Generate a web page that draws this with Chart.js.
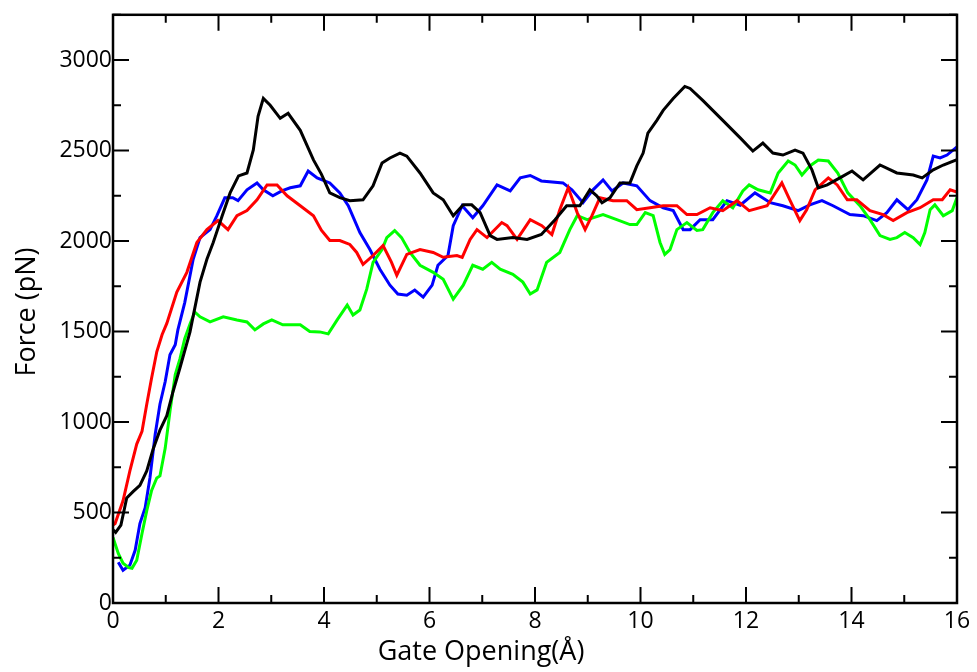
<!DOCTYPE html>
<html>
<head>
<meta charset="utf-8">
<script src="https://cdn.jsdelivr.net/npm/chart.js@4.4.1/dist/chart.umd.min.js"></script>
<style>
  html, body { margin: 0; padding: 0; background: #fff; }
  #wrap { width: 977px; height: 672px; }
</style>
</head>
<body>
<div id="wrap"><canvas id="chart1" width="977" height="672"></canvas></div>
<script>
// gate opening (A) vs force (pN), one [x, y] pair per point
const blackRun = [
  [0, 405], [0.05, 390], [0.15, 430], [0.26, 580], [0.38, 615], [0.51, 650], [0.64, 730], [0.76, 850],
  [0.89, 955], [1.02, 1035], [1.14, 1170], [1.27, 1300], [1.46, 1498], [1.65, 1773], [1.78, 1899],
  [1.9, 1992], [2.07, 2140], [2.22, 2266], [2.38, 2360], [2.54, 2376], [2.66, 2503], [2.75, 2689],
  [2.85, 2788], [2.98, 2750], [3.17, 2678], [3.32, 2706], [3.55, 2612], [3.8, 2448], [3.95, 2370],
  [4.11, 2266], [4.3, 2240], [4.49, 2223], [4.74, 2228], [4.93, 2305], [5.1, 2431], [5.25, 2459],
  [5.44, 2486], [5.57, 2469], [5.82, 2376], [6.07, 2266], [6.26, 2228], [6.45, 2140], [6.64, 2200],
  [6.8, 2200], [6.96, 2157], [7.15, 2030], [7.28, 2009], [7.58, 2019], [7.85, 2009], [8.12, 2036],
  [8.38, 2118], [8.6, 2195], [8.85, 2195], [9.04, 2283], [9.17, 2250], [9.27, 2212], [9.42, 2239],
  [9.61, 2321], [9.8, 2321], [9.93, 2415], [10.05, 2486], [10.14, 2596], [10.31, 2667], [10.43, 2722],
  [10.62, 2788], [10.84, 2854], [10.94, 2843], [11.18, 2777], [11.56, 2667], [11.89, 2570],
  [12.13, 2497], [12.32, 2541], [12.51, 2486], [12.7, 2475], [12.93, 2503], [13.08, 2486],
  [13.25, 2393], [13.37, 2294], [13.54, 2310], [13.78, 2349], [14.01, 2387], [14.22, 2338],
  [14.54, 2420], [14.86, 2376], [15.17, 2365], [15.34, 2349], [15.55, 2393], [15.74, 2420], [16, 2450]
];
const redRun = [
  [0, 430], [0.04, 439], [0.19, 565], [0.32, 730], [0.45, 878], [0.55, 949], [0.64, 1098], [0.73, 1240],
  [0.83, 1388], [0.93, 1482], [1.02, 1545], [1.21, 1718], [1.4, 1827], [1.59, 1992], [1.78, 2063],
  [1.99, 2113], [2.18, 2063], [2.35, 2140], [2.54, 2168], [2.73, 2228], [2.92, 2310], [3.11, 2310],
  [3.3, 2250], [3.55, 2195], [3.8, 2140], [3.95, 2060], [4.11, 2003], [4.3, 2003], [4.49, 1981],
  [4.62, 1937], [4.74, 1871], [4.93, 1920], [5.12, 1975], [5.28, 1882], [5.38, 1811], [5.57, 1926],
  [5.82, 1953], [6.07, 1937], [6.26, 1910], [6.52, 1920], [6.62, 1910], [6.77, 2009], [6.9, 2063],
  [7.09, 2019], [7.37, 2102], [7.47, 2085], [7.66, 2009], [7.91, 2118], [8.13, 2085], [8.32, 2036],
  [8.47, 2173], [8.63, 2294], [8.8, 2157], [8.95, 2063], [9.08, 2140], [9.23, 2239], [9.48, 2223],
  [9.74, 2223], [9.93, 2173], [10.18, 2184], [10.43, 2195], [10.69, 2195], [10.88, 2146], [11.07, 2146],
  [11.32, 2184], [11.56, 2168], [11.83, 2223], [12.06, 2168], [12.4, 2195], [12.68, 2321], [12.83, 2228],
  [13.02, 2113], [13.15, 2173], [13.31, 2283], [13.56, 2349], [13.73, 2310], [13.92, 2228], [14.1, 2228],
  [14.35, 2168], [14.6, 2146], [14.79, 2113], [15.05, 2157], [15.3, 2184], [15.55, 2228], [15.72, 2228],
  [15.87, 2283], [16, 2270]
];
const blueRun = [
  [0.1, 225], [0.19, 181], [0.32, 209], [0.42, 291], [0.51, 439], [0.61, 527], [0.7, 691], [0.8, 933],
  [0.89, 1098], [0.99, 1224], [1.08, 1372], [1.18, 1427], [1.23, 1509], [1.36, 1660], [1.52, 1899],
  [1.65, 2019], [1.84, 2063], [1.97, 2140], [2.12, 2239], [2.27, 2239], [2.37, 2223], [2.54, 2283],
  [2.73, 2321], [2.85, 2283], [3.03, 2250], [3.2, 2277], [3.36, 2294], [3.55, 2305], [3.7, 2387],
  [3.87, 2349], [4.11, 2321], [4.3, 2266], [4.46, 2195], [4.68, 2047], [4.87, 1953], [5.06, 1844],
  [5.25, 1756], [5.4, 1707], [5.57, 1701], [5.72, 1729], [5.88, 1690], [6.05, 1756], [6.16, 1866],
  [6.35, 1920], [6.45, 2085], [6.62, 2195], [6.82, 2129], [7.01, 2195], [7.28, 2310], [7.53, 2277],
  [7.72, 2349], [7.91, 2362], [8.12, 2332], [8.53, 2321], [8.7, 2283], [8.91, 2212], [9.1, 2283],
  [9.29, 2338], [9.46, 2277], [9.67, 2321], [9.93, 2305], [10.18, 2223], [10.43, 2184], [10.62, 2168],
  [10.81, 2063], [10.94, 2063], [11.13, 2118], [11.37, 2118], [11.64, 2223], [11.89, 2198], [12.17, 2266],
  [12.46, 2212], [12.7, 2195], [12.99, 2168], [13.21, 2200], [13.44, 2223], [13.65, 2195], [13.97, 2146],
  [14.22, 2140], [14.48, 2113], [14.67, 2157], [14.86, 2228], [15.07, 2173], [15.24, 2228], [15.43, 2338],
  [15.55, 2469], [15.68, 2459], [15.81, 2475], [16, 2520]
];
const greenRun = [
  [0, 362], [0.1, 274], [0.19, 220], [0.3, 195], [0.36, 192], [0.45, 236], [0.55, 384], [0.64, 510],
  [0.73, 620], [0.83, 691], [0.89, 702], [0.99, 856], [1.08, 1059], [1.18, 1262], [1.27, 1350],
  [1.36, 1460], [1.46, 1542], [1.55, 1608], [1.65, 1581], [1.84, 1553], [2.09, 1581], [2.35, 1564],
  [2.54, 1553], [2.69, 1509], [2.85, 1542], [3.01, 1564], [3.22, 1537], [3.55, 1537], [3.73, 1500],
  [3.92, 1498], [4.08, 1487], [4.25, 1564], [4.44, 1646], [4.55, 1591], [4.68, 1619], [4.81, 1734],
  [4.93, 1882], [5.1, 1953], [5.19, 2019], [5.34, 2058], [5.47, 2019], [5.63, 1937], [5.82, 1866],
  [6.07, 1827], [6.26, 1789], [6.45, 1679], [6.64, 1756], [6.82, 1866], [7.01, 1844], [7.18, 1882],
  [7.34, 1844], [7.58, 1816], [7.77, 1773], [7.91, 1707], [8.04, 1730], [8.22, 1882], [8.47, 1937],
  [8.66, 2063], [8.8, 2140], [8.99, 2118], [9.29, 2146], [9.55, 2118], [9.8, 2091], [9.93, 2091],
  [10.09, 2157], [10.24, 2140], [10.37, 1992], [10.46, 1926], [10.56, 1953], [10.69, 2063], [10.88, 2102],
  [11.07, 2058], [11.18, 2063], [11.37, 2157], [11.56, 2223], [11.75, 2184], [11.94, 2277], [12.06, 2310],
  [12.23, 2283], [12.46, 2266], [12.61, 2376], [12.8, 2442], [12.93, 2420], [13.06, 2365], [13.21, 2415],
  [13.37, 2448], [13.56, 2442], [13.74, 2376], [13.93, 2266], [14.16, 2195], [14.35, 2118], [14.54, 2030],
  [14.73, 2009], [14.86, 2019], [15.01, 2047], [15.17, 2019], [15.3, 1981], [15.39, 2047], [15.49, 2173],
  [15.58, 2200], [15.74, 2140], [15.91, 2168], [16, 2240]
];

const xTicks = [0, 2, 4, 6, 8, 10, 12, 14, 16];
const yTicks = [0, 500, 1000, 1500, 2000, 2500, 3000];
const xTitle = 'Gate Opening(Å)';
const yTitle = 'Force (pN)';

function pts(run) {
  return run.map(p => ({ x: p[0], y: p[1] }));
}

// boxed frame with inward ticks on all four sides, plus the axis titles
const frameTicks = {
  id: 'frameTicks',
  afterDraw(chart) {
    const { ctx, chartArea: a, scales: { x, y } } = chart;
    ctx.save();
    ctx.strokeStyle = '#000';
    ctx.lineWidth = 2.5;
    ctx.strokeRect(a.left, a.top, a.right - a.left, a.bottom - a.top);
    ctx.lineWidth = 2;
    ctx.beginPath();
    for (let v = 0; v <= 16; v += 1) {
      const px = x.getPixelForValue(v);
      const len = v % 2 === 0 ? 16 : 8;
      ctx.moveTo(px, a.bottom); ctx.lineTo(px, a.bottom - len);
      ctx.moveTo(px, a.top); ctx.lineTo(px, a.top + len);
    }
    for (let v = 0; v <= 3250; v += 250) {
      const py = y.getPixelForValue(v);
      const len = v % 500 === 0 ? 16 : 8;
      ctx.moveTo(a.left, py); ctx.lineTo(a.left + len, py);
      ctx.moveTo(a.right, py); ctx.lineTo(a.right - len, py);
    }
    ctx.stroke();

    ctx.fillStyle = '#000';
    ctx.font = '27px "Open Sans"';
    ctx.textAlign = 'center';
    ctx.textBaseline = 'middle';
    ctx.fillText(xTitle, 481, 652);
    ctx.translate(27, 312);
    ctx.rotate(-Math.PI / 2);
    ctx.fillText(yTitle, 0, 0);
    ctx.restore();
  }
};

const tickFont = { family: '"Open Sans"', size: 23 };
const plain = v => String(v);

new Chart(document.getElementById('chart1').getContext('2d'), {
  type: 'line',
  data: {
    datasets: [
      { data: pts(blackRun), borderColor: '#000000' },
      { data: pts(redRun), borderColor: '#ff0000' },
      { data: pts(greenRun), borderColor: '#00ff00' },
      { data: pts(blueRun), borderColor: '#0000ff' }
    ].map(d => Object.assign(d, { borderWidth: 3, pointRadius: 0, tension: 0, fill: false }))
  },
  options: {
    responsive: false,
    animation: false,
    layout: { padding: { top: 13, right: 20, left: 0, bottom: 0 } },
    plugins: { legend: { display: false }, tooltip: { enabled: false } },
    scales: {
      x: {
        type: 'linear', min: 0, max: 16,
        grid: { display: false, drawTicks: false },
        border: { display: false },
        ticks: { font: tickFont, color: '#000', padding: 5, maxRotation: 0, autoSkip: false, callback: plain },
        afterBuildTicks: s => { s.ticks = xTicks.map(v => ({ value: v })); },
        afterFit: s => { s.height = 69; }
      },
      y: {
        type: 'linear', min: 0, max: 3250,
        grid: { display: false, drawTicks: false },
        border: { display: false },
        ticks: { font: tickFont, color: '#000', padding: 1, autoSkip: false, callback: plain },
        afterBuildTicks: s => { s.ticks = yTicks.map(v => ({ value: v })); },
        afterFit: s => { s.width = 113; }
      }
    }
  },
  plugins: [frameTicks]
});
</script>
</body>
</html>
